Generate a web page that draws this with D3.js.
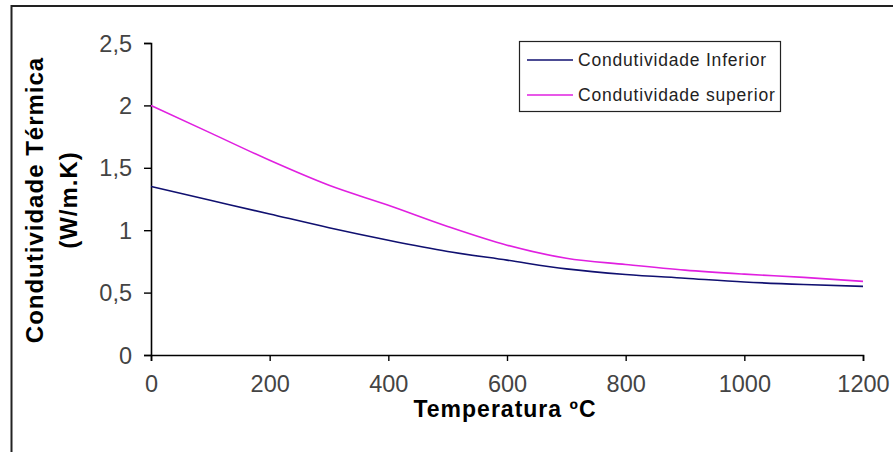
<!DOCTYPE html>
<html>
<head>
<meta charset="utf-8">
<script src="https://cdn.jsdelivr.net/npm/d3@7"></script>
<style>
  html, body { margin: 0; padding: 0; background: #fff; }
  svg { display: block; font-family: "Liberation Sans", Arial, sans-serif; }
</style>
</head>
<body>
<svg id="chart" width="893" height="452"></svg>
<script>
// ---- data ----
const temperatures = [0, 100, 200, 300, 400, 500, 600, 700, 800, 900, 1000, 1100, 1200];
const inferior = [1.35, 1.24, 1.13, 1.02, 0.92, 0.83, 0.76, 0.69, 0.645, 0.615, 0.585, 0.565, 0.55];
const superior = [2.0, 1.78, 1.56, 1.36, 1.2, 1.03, 0.88, 0.775, 0.725, 0.68, 0.648, 0.622, 0.59];
const xTicks = [0, 200, 400, 600, 800, 1000, 1200];
const yTicks = [0, 0.5, 1, 1.5, 2, 2.5];
const seriesNames = ["Condutividade Inferior", "Condutividade superior"];
const seriesColors = ["#101070", "#e020e0"];

const svg = d3.select("#chart");

// outer frame
svg.append("rect").attr("x", 11.5).attr("y", 6).attr("width", 900).attr("height", 460)
  .attr("fill", "none").attr("stroke", "#222").attr("stroke-width", 2);

const x = d3.scaleLinear().domain([0, 1200]).range([151, 863]);
const y = d3.scaleLinear().domain([0, 2.5]).range([355, 43]);

const fmt = v => String(v).replace(".", ",");

// x axis
const xAxis = svg.append("g").attr("transform", "translate(0,355)")
  .call(d3.axisBottom(x).tickValues(xTicks).tickSize(6).tickPadding(14).tickFormat(fmt));
// y axis
const yAxis = svg.append("g").attr("transform", "translate(151,0)")
  .call(d3.axisLeft(y).tickValues(yTicks).tickSize(7).tickPadding(12).tickFormat(fmt));

[xAxis, yAxis].forEach(g => {
  g.select(".domain").attr("stroke", "#000").attr("stroke-width", 1.6);
  g.selectAll(".tick line").attr("stroke", "#000").attr("stroke-width", 1.4);
  g.selectAll(".tick text").attr("fill", "#444").attr("font-size", 23.5)
    .attr("font-family", "'Liberation Sans', Arial, sans-serif");
});
xAxis.selectAll(".tick text").attr("dy", "0.71em");
yAxis.selectAll(".tick text").attr("dy", "0.34em");

// lines
const line = d3.line().x((d, i) => x(temperatures[i])).y(d => y(d)).curve(d3.curveMonotoneX);
[inferior, superior].forEach((s, k) => {
  svg.append("path").datum(s).attr("d", line).attr("fill", "none")
    .attr("stroke", seriesColors[k]).attr("stroke-width", 1.6);
});

// axis titles
svg.append("text").attr("x", 505).attr("y", 417).attr("text-anchor", "middle")
  .attr("font-weight", "bold").attr("font-size", 23).attr("letter-spacing", "1px")
  .attr("fill", "#000").text("Temperatura ºC");

const yt = svg.append("text").attr("transform", "translate(0,200) rotate(-90)")
  .attr("text-anchor", "middle").attr("font-weight", "bold").attr("font-size", 24)
  .attr("letter-spacing", "1px").attr("fill", "#000");
yt.append("tspan").attr("x", 0).attr("y", 43).text("Condutividade Térmica");
yt.append("tspan").attr("x", 0).attr("y", 77).text("(W/m.K)");

// legend
const lg = svg.append("g");
lg.append("rect").attr("x", 519.5).attr("y", 41.5).attr("width", 261).attr("height", 70)
  .attr("fill", "#fff").attr("stroke", "#222").attr("stroke-width", 1.2);
seriesNames.forEach((name, k) => {
  const cy = 60 + k * 35;
  lg.append("line").attr("x1", 527).attr("x2", 573).attr("y1", cy).attr("y2", cy)
    .attr("stroke", seriesColors[k]).attr("stroke-width", 1.6);
  lg.append("text").attr("x", 578).attr("y", cy).attr("dy", "0.35em")
    .attr("font-size", 17.5).attr("letter-spacing", "0.8px").attr("fill", "#222").text(name);
});
</script>
</body>
</html>
